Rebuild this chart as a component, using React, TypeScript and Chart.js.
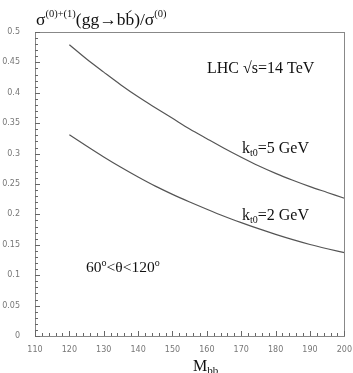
import React, { useEffect, useRef } from "react";
import { Chart, registerables } from "chart.js";

Chart.register(...registerables);

const massValues = [120, 125, 130, 135, 140, 145, 150, 155, 160, 165, 170, 175, 180, 185, 190, 195, 200];
const ratioKt5 = [0.479, 0.4555, 0.434, 0.413, 0.3935, 0.3755, 0.358, 0.3405, 0.3245, 0.3088, 0.294, 0.28, 0.2675, 0.2562, 0.2457, 0.2361, 0.2265];
const ratioKt2 = [0.331, 0.3125, 0.2945, 0.2775, 0.2615, 0.2465, 0.233, 0.2205, 0.2085, 0.197, 0.1865, 0.1765, 0.1672, 0.1585, 0.1505, 0.1435, 0.137];
const seriesLabels = ["kt0=5 GeV", "kt0=2 GeV"];

const SERIF = '"Liberation Serif", "Times New Roman", serif';

type Seg = { t: string; size: number; dy: number };

function drawRich(ctx: CanvasRenderingContext2D, x: number, y: number, segs: Seg[]) {
  let cx = x;
  const pos: number[] = [];
  for (const s of segs) {
    ctx.font = `${s.size}px ${SERIF}`;
    pos.push(cx);
    ctx.fillText(s.t, cx, y + s.dy);
    cx += ctx.measureText(s.t).width;
  }
  return pos;
}

const overlayPlugin = {
  id: "overlay",
  afterDraw(chart: any) {
    const ctx: CanvasRenderingContext2D = chart.ctx;
    const { left, right, top, bottom } = chart.chartArea;
    const xs = chart.scales.x;
    const ys = chart.scales.y;
    ctx.save();
    // frame
    ctx.strokeStyle = "#888";
    ctx.lineWidth = 1;
    ctx.strokeRect(Math.round(left) + 0.5, Math.round(top) + 0.5, Math.round(right - left), Math.round(bottom - top));
    // inward ticks
    ctx.strokeStyle = "#666";
    ctx.beginPath();
    for (let v = 110; v <= 200; v += 2) {
      const px = Math.round(xs.getPixelForValue(v)) + 0.5;
      const len = v % 10 === 0 ? 5 : 3;
      ctx.moveTo(px, bottom);
      ctx.lineTo(px, bottom - len);
    }
    for (let i = 0; i <= 50; i++) {
      const v = i / 100;
      const py = Math.round(ys.getPixelForValue(v)) + 0.5;
      const len = i % 5 === 0 ? 5 : 3;
      ctx.moveTo(left, py);
      ctx.lineTo(left + len, py);
    }
    ctx.stroke();

    // texts
    ctx.fillStyle = "#111";
    ctx.textBaseline = "alphabetic";
    ctx.textAlign = "left";
    // title
    const tp = drawRich(ctx, 36, 25, [
      { t: "σ", size: 17.5, dy: 0 },
      { t: "(0)+(1)", size: 10.5, dy: -8 },
      { t: "(gg→bb", size: 17.5, dy: 0 },
      { t: ")/σ", size: 17.5, dy: 0 },
      { t: "(0)", size: 10.5, dy: -8 },
    ]);
    // bar over second b
    ctx.font = `17.5px ${SERIF}`;
    const bx = tp[3] - ctx.measureText("b").width;
    ctx.strokeStyle = "#111";
    ctx.beginPath();
    ctx.moveTo(bx + 3, 12.5);
    ctx.lineTo(bx + 6, 10.5);
    ctx.stroke();

    // x axis title
    drawRich(ctx, 193, 371, [
      { t: "M", size: 16, dy: 0 },
      { t: "bb", size: 11, dy: 3 },
    ]);

    drawRich(ctx, 207, 73, [{ t: "LHC √s=14 TeV", size: 16, dy: 0 }]);
    drawRich(ctx, 242, 153, [
      { t: "k", size: 16, dy: 0 },
      { t: "t0", size: 10, dy: 3 },
      { t: "=5 GeV", size: 16, dy: 0 },
    ]);
    drawRich(ctx, 242, 220, [
      { t: "k", size: 16, dy: 0 },
      { t: "t0", size: 10, dy: 3 },
      { t: "=2 GeV", size: 16, dy: 0 },
    ]);
    drawRich(ctx, 86, 272, [
      { t: "60", size: 15.5, dy: 0 },
      { t: "o", size: 10, dy: -6 },
      { t: "<θ<120", size: 15.5, dy: 0 },
      { t: "o", size: 10, dy: -6 },
    ]);
    ctx.restore();
  },
};

export default function App() {
  const ref = useRef<HTMLCanvasElement>(null);
  useEffect(() => {
    if (!ref.current) return;
    const chart = new Chart(ref.current, {
      type: "line",
      data: {
        datasets: [
          {
            label: seriesLabels[0],
            data: massValues.map((m, i) => ({ x: m, y: ratioKt5[i] })),
            borderColor: "#555",
            borderWidth: 1.2,
            pointRadius: 0,
            cubicInterpolationMode: "monotone",
          },
          {
            label: seriesLabels[1],
            data: massValues.map((m, i) => ({ x: m, y: ratioKt2[i] })),
            borderColor: "#555",
            borderWidth: 1.2,
            pointRadius: 0,
            cubicInterpolationMode: "monotone",
          },
        ],
      },
      options: {
        animation: false,
        responsive: true,
        maintainAspectRatio: false,
        layout: { padding: { left: 0, top: 32, right: 8, bottom: 0 } },
        plugins: { legend: { display: false }, tooltip: { enabled: false }, title: { display: false } },
        scales: {
          x: {
            type: "linear",
            min: 110,
            max: 200,
            grid: { display: false },
            border: { display: false },
            ticks: {
              stepSize: 10,
              padding: 1,
              color: "#777",
              font: { family: "DejaVu Sans", size: 8 },
              maxRotation: 0,
            },
            afterFit: (s: any) => {
              s.height = 37;
            },
          },
          y: {
            min: 0,
            max: 0.5,
            grid: { display: false },
            border: { display: false },
            ticks: {
              stepSize: 0.05,
              padding: 7,
              color: "#777",
              font: { family: "DejaVu Sans", size: 8 },
              callback: (v: any) => String(Math.round(Number(v) * 100) / 100),
            },
            afterFit: (s: any) => {
              s.width = 35;
            },
          },
        },
      },
      plugins: [overlayPlugin],
    });
    return () => chart.destroy();
  }, []);
  return (
    <div style={{ position: "absolute", left: 0, top: 0, width: 353, height: 373, background: "#fff" }}>
      <canvas ref={ref} />
    </div>
  );
}
